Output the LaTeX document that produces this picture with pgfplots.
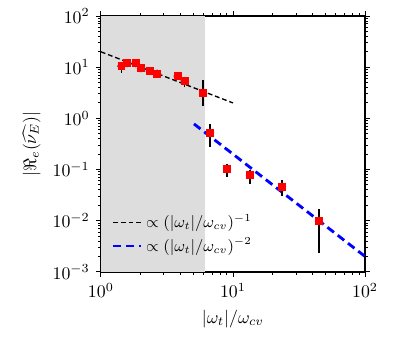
\documentclass[border=0pt]{standalone}
\usepackage{pgfplots}
\pgfplotsset{compat=1.18}
\definecolor{shade}{RGB}{221,221,221}
\begin{document}
\begin{tikzpicture}
\begin{axis}[
width=148.5pt, height=143.8pt, scale only axis,
xmode=log, ymode=log,
xmin=1, xmax=100, ymin=1e-3, ymax=1e2,
axis line style={line width=0.8pt},
tick align=outside,
tick style={black, line width=0.5pt},
major tick length=2.8pt, minor tick length=1.6pt,
xlabel={$|\omega_t|/\omega_{cv}$},
ylabel={$|\Re_e(\widehat{\nu_E})|$},
legend style={draw=none, fill=none, at={(0.02,0.04)}, anchor=south west, font=\small, row sep=0pt},
legend cell align=left,
legend image code/.code={\draw[#1] (0cm,0cm) -- (0.55cm,0cm);},
]
% shaded region
\addplot[fill=shade, draw=none, forget plot] coordinates {(1,1e-3) (6.1,1e-3) (6.1,1e2) (1,1e2)} -- cycle;

\addplot[black, line width=0.75pt, dash pattern=on 2.7pt off 1.6pt] coordinates {(1,20) (10,2)};
\addlegendentry{$\propto(|\omega_t|/\omega_{cv})^{-1}$}
\addplot[blue, line width=1.6pt, dash pattern=on 4.6pt off 2.7pt] coordinates {(5.07,0.778) (100,0.002)};
\addlegendentry{$\propto(|\omega_t|/\omega_{cv})^{-2}$}

% error bars
\addplot[only marks, mark=none, forget plot,
  error bars/.cd, y dir=both, y explicit, error mark=none,
  error bar style={draw=black, solid, line width=0.95pt}]
table[x=x, y=y, y error plus=ep, y error minus=em] {
x     y       ep      em
1.43  10.5    2.3     2.7
1.58  11.9    1.0     1.0
1.83  11.9    0.5     0.5
2.01  9.5     0.5     0.5
2.34  8.4     0.4     0.4
2.67  7.5     0.3     0.3
3.81  6.7     0.4     0.4
4.3   5.4     0.95    1.35
5.93  3.2     2.4     1.45
6.73  0.53    0.24    0.26
9.05  0.101   0.029   0.029
13.4  0.077   0.022   0.024
23.6  0.046   0.015   0.016
44.8  0.0099  0.0071  0.0076
};
% markers
\addplot[only marks, mark=square*, mark size=1.95pt, color=red, forget plot] table[x=x, y=y] {
x     y
1.43  10.5
1.58  11.9
1.83  11.9
2.01  9.5
2.34  8.4
2.67  7.5
3.81  6.7
4.3   5.4
5.93  3.2
6.73  0.53
9.05  0.101
13.4  0.077
23.6  0.046
44.8  0.0099
};
\end{axis}
% page margins as in the reference figure
\path (current axis.south west) ++(-56.7pt,-37.6pt);
\path (current axis.north east) ++(23.6pt,9.0pt);
\end{tikzpicture}
\end{document}
